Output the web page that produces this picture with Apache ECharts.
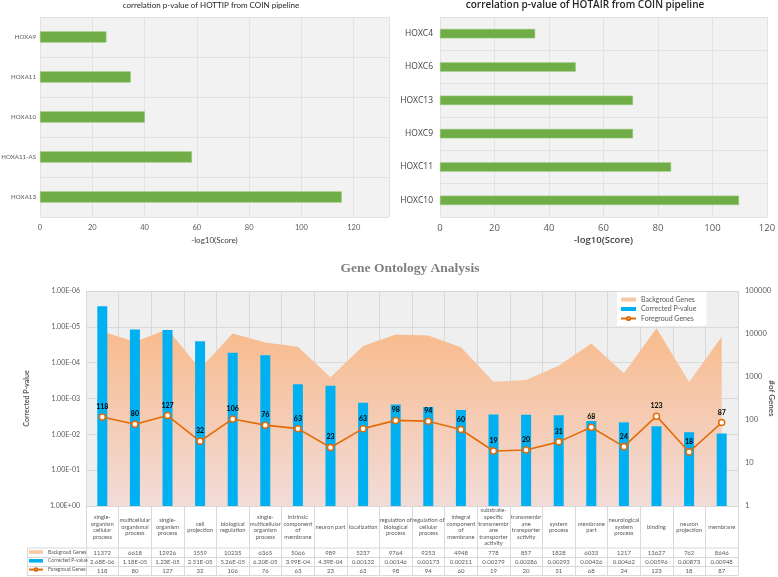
<!DOCTYPE html>
<html><head><meta charset="utf-8">
<script src="https://cdn.jsdelivr.net/npm/echarts@6/dist/echarts.min.js"></script>
<style>html,body{margin:0;padding:0;background:#fff}#c{width:778px;height:577px}</style>
</head><body><div id="c"></div><script>
// ---- top-left chart data ----
const hottipGenes = ['HOXA9', 'HOXA11', 'HOXA10', 'HOXA11-AS', 'HOXA13'];
const hottipScores = [25.4, 34.7, 40.1, 58.1, 115.4];
// ---- top-right chart data ----
const hotairGenes = ['HOXC4', 'HOXC6', 'HOXC13', 'HOXC9', 'HOXC11', 'HOXC10'];
const hotairScores = [34.9, 49.8, 70.8, 70.8, 84.8, 109.7];
// ---- Gene Ontology data ----
const goTerms = ['single-organism cellular process', 'multicellular organismal process', 'single-organism process', 'cell projection', 'biological regulation', 'single-multicellular organism process', 'intrinsic component of membrane', 'neuron part', 'localization', 'regulation of biological process', 'regulation of cellular process', 'integral component of membrane', 'substrate-specific transmembrane transporter activity', 'transmembrane transporter activity', 'system process', 'membrane part', 'neurological system process', 'binding', 'neuron projection', 'membrane'];
const goTermLabels = ['single-\norganism\ncellular\nprocess', 'multicellular\norganismal\nprocess', 'single-\norganism\nprocess', 'cell\nprojection', 'biological\nregulation', 'single-\nmulticellular\norganism\nprocess', 'intrinsic\ncomponent\nof\nmembrane', 'neuron part', 'localization', 'regulation of\nbiological\nprocess', 'regulation of\ncellular\nprocess', 'integral\ncomponent\nof\nmembrane', 'substrate-\nspecific\ntransmembr\nane\ntransporter\nactivity', 'transmembr\nane\ntransporter\nactivity', 'system\nprocess', 'membrane\npart', 'neurological\nsystem\nprocess', 'binding', 'neuron\nprojection', 'membrane'];
const backgroundGenes = [11372, 6618, 12926, 1559, 10235, 6365, 5066, 989, 5237, 9764, 9253, 4948, 778, 857, 1828, 6033, 1217, 13627, 762, 8646];
const correctedP = [2.68e-6, 1.18e-5, 1.23e-5, 2.51e-5, 5.26e-5, 6.20e-5, 3.99e-4, 4.39e-4, 0.00132, 0.00146, 0.00173, 0.00211, 0.00279, 0.00286, 0.00293, 0.00426, 0.00462, 0.00596, 0.00873, 0.00948];
const foregroundGenes = [118, 80, 127, 32, 106, 76, 63, 23, 63, 98, 94, 60, 19, 20, 31, 68, 24, 123, 18, 87];
const seriesNames = ['Backgroud Genes', 'Corrected P-value', 'Foregroud Genes'];

function sciLabel(v) {
  const e = Math.round(Math.log10(v));
  return '1.00E' + (e < 0 ? '-' : '+') + String(Math.abs(e)).padStart(2, '0');
}
function pText(v) {
  if (v < 1e-3) {
    const s = v.toExponential(2).split('e');
    const e = parseInt(s[1], 10);
    return s[0] + 'E' + (e < 0 ? '-' : '+') + String(Math.abs(e)).padStart(2, '0');
  }
  return v.toPrecision(3);
}

const NARROW = 'Lato, "Liberation Sans", sans-serif';
const OPEN = '"Open Sans", "Noto Sans", sans-serif';
const GRID_C = '#d9d9d9';
const TXT = '#595959';

const L = 86, W = 652;
const rowTops = [548, 557.5, 566.5], rowH = [9.5, 9, 9];

const chart = echarts.init(document.getElementById('c'), null, {renderer: 'canvas'});

const rowGrids = rowTops.map((t, i) => ({left: L, top: t, width: W, height: rowH[i], outerBoundsMode: 'none'}));
const rowData = [backgroundGenes.map(String), correctedP.map(pText), foregroundGenes.map(String)];

chart.setOption({
  animation: false,
  title: [
    {text: 'correlation p-value of HOTTIP from COIN pipeline', left: 211, top: 1, padding: 0, textAlign: 'center',
     textStyle: {fontFamily: NARROW, fontSize: 8, fontWeight: 'normal', color: '#262626'}},
    {text: 'correlation p-value of HOTAIR from COIN pipeline', left: 585, top: 0, padding: 0, textAlign: 'center',
     textStyle: {fontFamily: OPEN, fontSize: 10, fontWeight: 600, color: '#262626'}},
    {text: 'Gene Ontology Analysis', left: 410, top: 262, padding: 0, textAlign: 'center',
     textStyle: {fontFamily: '"Liberation Serif", serif', fontSize: 13.5, fontWeight: 'bold', color: '#7f7f7f'}}
  ],
  legend: [
    {orient: 'vertical', left: 617, top: 292, padding: [4, 10, 4, 3], itemGap: 2.5, itemWidth: 15, itemHeight: 4,
     backgroundColor: '#ffffff',
     textStyle: {fontFamily: NARROW, fontSize: 7, color: TXT},
     data: [{name: seriesNames[0], icon: 'rect'}, {name: seriesNames[1], icon: 'rect'}, {name: seriesNames[2]}]},
    {orient: 'vertical', left: 27, top: 549.5, padding: [0, 0, 0, 1], itemGap: 3.8, itemWidth: 14, itemHeight: 3.5,
     textStyle: {fontFamily: NARROW, fontSize: 5, color: TXT},
     data: [{name: seriesNames[0], icon: 'rect'}, {name: seriesNames[1], icon: 'rect'}, {name: seriesNames[2]}]}
  ],
  grid: [
    {left: 40, top: 17, width: 349, height: 200, show: true, backgroundColor: '#f2f2f2', borderWidth: 0, outerBoundsMode: 'none'},
    {left: 440, top: 17, width: 327, height: 200, show: true, backgroundColor: '#f2f2f2', borderWidth: 0, outerBoundsMode: 'none'},
    {left: L, top: 291, width: W, height: 215, show: true, backgroundColor: '#efefef', borderWidth: 0, outerBoundsMode: 'none'},
    ...rowGrids
  ],
  xAxis: [
    {gridIndex: 0, type: 'value', min: 0, max: 133.5, interval: 20,
     axisLine: {show: false}, axisTick: {show: false},
     axisLabel: {fontFamily: NARROW, fontSize: 7.5, color: TXT, margin: 7, showMaxLabel: false},
     splitLine: {lineStyle: {color: '#e2e2e2'}},
     name: '-log10(Score)', nameLocation: 'middle', nameGap: 19,
     nameTextStyle: {fontFamily: NARROW, fontSize: 8, color: '#404040'}},
    {gridIndex: 1, type: 'value', min: 0, max: 120, interval: 20,
     axisLine: {show: false}, axisTick: {show: false},
     axisLabel: {fontFamily: OPEN, fontSize: 9.5, color: TXT, margin: 6},
     splitLine: {lineStyle: {color: '#e2e2e2'}},
     name: '-log10(Score)', nameLocation: 'middle', nameGap: 18,
     nameTextStyle: {fontFamily: OPEN, fontSize: 9.5, fontWeight: 600, color: '#404040'}},
    {gridIndex: 2, type: 'category', data: goTermLabels, boundaryGap: true,
     axisLine: {lineStyle: {color: GRID_C}},
     axisTick: {show: true, interval: 0, length: 69.5, lineStyle: {color: GRID_C}},
     axisLabel: {interval: 0, margin: 21, verticalAlign: 'middle', fontFamily: NARROW, fontSize: 5.8, lineHeight: 6.6, color: TXT},
     splitLine: {show: true, interval: 0, lineStyle: {color: GRID_C}}},
    ...rowData.map((d, i) => ({gridIndex: 3 + i, type: 'category', data: d, position: 'top',
     axisLine: {show: false}, axisTick: {show: false}, splitLine: {show: false},
     axisLabel: {inside: true, interval: 0, margin: rowH[i] / 2, verticalAlign: 'middle', fontFamily: NARROW, fontSize: 6, color: TXT}}))
  ],
  yAxis: [
    {gridIndex: 0, type: 'category', data: hottipGenes, inverse: true,
     axisLine: {show: false}, axisTick: {show: false},
     axisLabel: {fontFamily: NARROW, fontSize: 6.2, color: TXT, margin: 4},
     splitLine: {show: true, lineStyle: {color: '#e2e2e2'}}},
    {gridIndex: 1, type: 'category', data: hotairGenes, inverse: true,
     axisLine: {show: false}, axisTick: {show: false},
     axisLabel: {fontFamily: OPEN, fontSize: 8.5, color: '#404040', margin: 7},
     splitLine: {show: true, lineStyle: {color: '#e2e2e2'}}},
    {gridIndex: 2, type: 'log', logBase: 10, min: 1e-6, max: 1, inverse: true, position: 'left',
     axisLine: {show: false}, axisTick: {show: false},
     axisLabel: {formatter: sciLabel, fontFamily: NARROW, fontSize: 7, color: TXT, margin: 6},
     splitLine: {show: true, lineStyle: {color: GRID_C}},
     name: 'Corrected P-value', nameLocation: 'middle', nameRotate: 90, nameGap: 56,
     nameTextStyle: {fontFamily: NARROW, fontSize: 7, fontWeight: 'bold', color: TXT}},
    {gridIndex: 2, type: 'log', logBase: 10, min: 1, max: 100000, position: 'right',
     axisLine: {show: false}, axisTick: {show: false},
     axisLabel: {formatter: v => String(Math.round(v)), fontFamily: NARROW, fontSize: 7.5, color: TXT, margin: 7},
     splitLine: {show: false},
     name: '#of Genes', nameLocation: 'middle', nameRotate: -90, nameGap: 30, nameMoveOverlap: false,
     nameTextStyle: {fontFamily: NARROW, fontSize: 8, fontWeight: 'bold', color: TXT}},
    ...rowData.map((d, i) => ({gridIndex: 3 + i, type: 'value', show: false}))
  ],
  series: [
    {type: 'bar', xAxisIndex: 0, yAxisIndex: 0, data: hottipScores, barWidth: '28%',
     itemStyle: {color: '#70ad47', borderColor: '#8cc46a', borderWidth: 0.6}},
    {type: 'bar', xAxisIndex: 1, yAxisIndex: 1, data: hotairScores, barWidth: '28%',
     itemStyle: {color: '#70ad47', borderColor: '#8cc46a', borderWidth: 0.6}},
    {name: seriesNames[0], type: 'line', xAxisIndex: 2, yAxisIndex: 3, data: backgroundGenes, z: 1,
     symbol: 'none', lineStyle: {width: 0}, itemStyle: {color: '#f8c7a4'},
     areaStyle: {origin: 1, opacity: 1, color: new echarts.graphic.LinearGradient(0, 0, 0, 1, [
       {offset: 0, color: '#f8bb8c'}, {offset: 0.55, color: '#f5cdb7'}, {offset: 1, color: '#f2dcd8'}])}},
    {name: seriesNames[1], type: 'bar', xAxisIndex: 2, yAxisIndex: 2, data: correctedP, barWidth: 10, z: 3,
     itemStyle: {color: '#00b0f0'}},
    {name: seriesNames[2], type: 'line', xAxisIndex: 2, yAxisIndex: 3, data: foregroundGenes, z: 5,
     symbol: 'circle', symbolSize: 6,
     lineStyle: {color: '#e36c09', width: 1.6},
     itemStyle: {color: '#ffffff', borderColor: '#e36c09', borderWidth: 1.5},
     label: {show: true, position: 'top', distance: 3, fontFamily: NARROW, fontSize: 7, fontWeight: 'bold', color: '#000'}}
  ],
  graphic: [
    ...[548, 557.5, 566.5, 575.5].map(y => ({type: 'line', silent: true,
      shape: {x1: 27, y1: y, x2: L + W, y2: y}, style: {stroke: GRID_C, lineWidth: 1}})),
    {type: 'line', silent: true, shape: {x1: 27.5, y1: 548, x2: 27.5, y2: 575.5}, style: {stroke: GRID_C, lineWidth: 1}}
  ]
});
</script></body></html>
